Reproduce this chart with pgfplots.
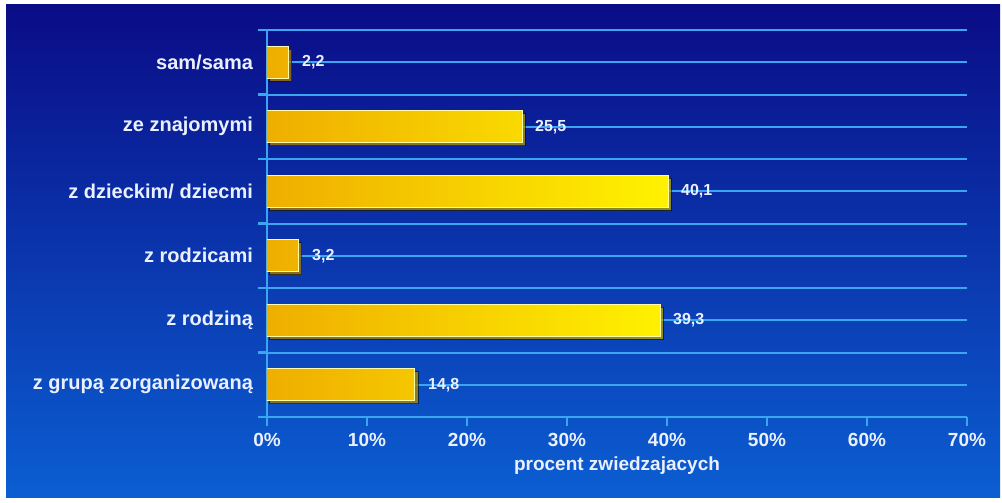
\documentclass[border=0pt]{standalone}
\usepackage{pgfplots}
\pgfplotsset{compat=1.18}
\usepackage{fontspec}
\setmainfont{Liberation Sans}
\usetikzlibrary{shadows}
\definecolor{paneltop}{HTML}{0A0C86}
\definecolor{panelmid}{HTML}{0A34AA}
\definecolor{panelbot}{HTML}{0B5ED2}
\definecolor{gridblue}{HTML}{3AA6F2}
\definecolor{txt}{HTML}{EAF0FF}
\definecolor{barL}{HTML}{EFAE00}
\definecolor{barR}{HTML}{FFF200}
\begin{document}
\begin{tikzpicture}
\path[fill=white] (0,0) rectangle (501pt,251.5pt);
\shade[top color=paneltop, middle color=panelmid, bottom color=panelbot] (3pt,2.5pt) rectangle (500pt,249pt);
\begin{axis}[
  at={(133.5pt,43pt)}, anchor=south west,
  width=350pt, height=193.5pt, scale only axis,
  xmin=0, xmax=70, ymin=-0.5, ymax=5.5, y dir=reverse,
  /pgf/number format/assume math mode=true,
  axis x line*=bottom, axis y line*=left,
  axis line style={gridblue, line width=1.2pt, -},
  xtick={0,10,...,70},
  xticklabel={\pgfmathprintnumber{\tick}\%},
  ytick={-0.5,0.5,...,5.5},
  yticklabels={},
  extra y ticks={0,1,2,3,4,5},
  extra y tick labels={sam/sama, ze znajomymi, z dzieckim/ dziecmi, z rodzicami, z rodziną, z grupą zorganizowaną},
  extra y tick style={major tick length=0pt, grid style={gridblue, line width=0.6pt}},
  ymajorgrids,
  major grid style={gridblue, line width=1pt},
  tick align=outside,
  major tick length=4.5pt,
  tick style={gridblue, line width=1.2pt},
  xticklabel style={font=\bfseries\fontsize{9.5}{10}\selectfont, text=txt},
  yticklabel style={font=\bfseries\fontsize{10}{11}\selectfont, text=txt, xshift=-3.5pt},
  xlabel={procent zwiedzajacych},
  xlabel style={font=\bfseries\fontsize{9.5}{10}\selectfont, text=txt, at={(axis description cs:0.5,0)}, anchor=center, yshift=-24.5pt},
  nodes near coords={\pgfmathprintnumber[use comma,fixed,fixed zerofill,precision=1]{\pgfplotspointmeta}},
  point meta=x,
  nodes near coords style={anchor=west, font=\bfseries\fontsize{8}{9}\selectfont, text=txt, xshift=3pt},
]
\addplot[xbar, bar width=16pt, left color=barL, right color=barR, draw=yellow!35!white, line width=0.5pt,
  drop shadow={shadow xshift=1.5pt, shadow yshift=-1.5pt, opacity=0.55, fill=black, draw=black}]
  coordinates {(2.2,0) (25.5,1) (40.1,2) (3.2,3) (39.3,4) (14.8,5)};
\end{axis}
\end{tikzpicture}
\end{document}
